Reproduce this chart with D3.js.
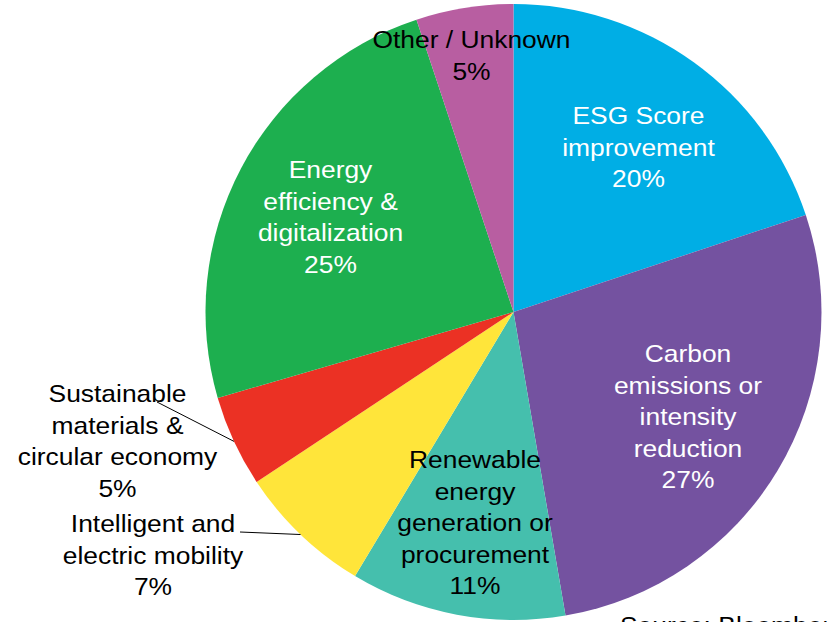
<!DOCTYPE html>
<html><head><meta charset="utf-8">
<script src="https://cdn.jsdelivr.net/npm/d3@7"></script>
<style>html,body{margin:0;padding:0;background:#fff;}svg{display:block;}</style>
</head><body>
<script>
// Data
const categories = [
  "ESG Score improvement",
  "Carbon emissions or intensity reduction",
  "Renewable energy generation or procurement",
  "Intelligent and electric mobility",
  "Sustainable materials & circular economy",
  "Energy efficiency & digitalization",
  "Other / Unknown"
];
const values = [19.9, 27.4, 11.3, 7.1, 4.8, 24.4, 5.1];
const percentLabels = ["20%", "27%", "11%", "7%", "5%", "25%", "5%"];
const labelLines = [
  ["ESG Score", "improvement"],
  ["Carbon", "emissions or", "intensity", "reduction"],
  ["Renewable", "energy", "generation or", "procurement"],
  ["Intelligent and", "electric mobility"],
  ["Sustainable", "materials &", "circular economy"],
  ["Energy", "efficiency &", "digitalization"],
  ["Other / Unknown"]
];
const sourceText = "Source: Bloomberg";

// Styles / layout
const colors = ["#00AEE5", "#7452A0", "#45BFAD", "#FFE53A", "#EB3124", "#1DAF4F", "#B85EA1"];
const textColors = ["#fff", "#fff", "#000", "#000", "#000", "#fff", "#000"];
const labelPos = [ // x center, first baseline
  [638.5, 124], [688, 362], [475, 468], [153, 532], [117.5, 402], [330.5, 178], [471.5, 48]
];
const leader = [null, null, null, [240, 532], [157, 402], null, null];
const W = 827, H = 622, cx = 513.5, cy = 312, R = 308;
const fontSize = 24, lineH = 31.5, sx = 1.1;

const svg = d3.select("body").append("svg").attr("width", W).attr("height", H);
const g = svg.append("g").attr("transform", `translate(${cx},${cy})`);
const pie = d3.pie().sort(null).value(d => d);
const arcs = pie(values);
const arc = d3.arc().innerRadius(0).outerRadius(R);

g.selectAll("path").data(arcs).join("path")
  .attr("d", arc).attr("fill", (d, i) => colors[i]);

// leader lines
arcs.forEach((a, i) => {
  if (!leader[i]) return;
  const m = (a.startAngle + a.endAngle) / 2;
  const ex = cx + R * Math.sin(m), ey = cy - R * Math.cos(m);
  svg.append("line").attr("x1", leader[i][0]).attr("y1", leader[i][1])
    .attr("x2", ex).attr("y2", ey).attr("stroke", "#000").attr("stroke-width", 1);
});

// labels
arcs.forEach((a, i) => {
  const lines = labelLines[i].concat([percentLabels[i]]);
  const [x, y0] = labelPos[i];
  lines.forEach((t, k) => {
    svg.append("text")
      .attr("transform", `translate(${x},${y0 + k * lineH}) scale(${sx},1)`)
      .attr("text-anchor", "middle")
      .attr("font-family", "Liberation Sans, Arial, sans-serif")
      .attr("font-size", fontSize)
      .attr("fill", textColors[i])
      .text(t);
  });
});

svg.append("text")
  .attr("transform", `translate(620,634) scale(${sx},1)`)
  .attr("font-family", "Liberation Sans, Arial, sans-serif")
  .attr("font-size", fontSize).attr("fill", "#000")
  .text(sourceText);
</script>
</body></html>
